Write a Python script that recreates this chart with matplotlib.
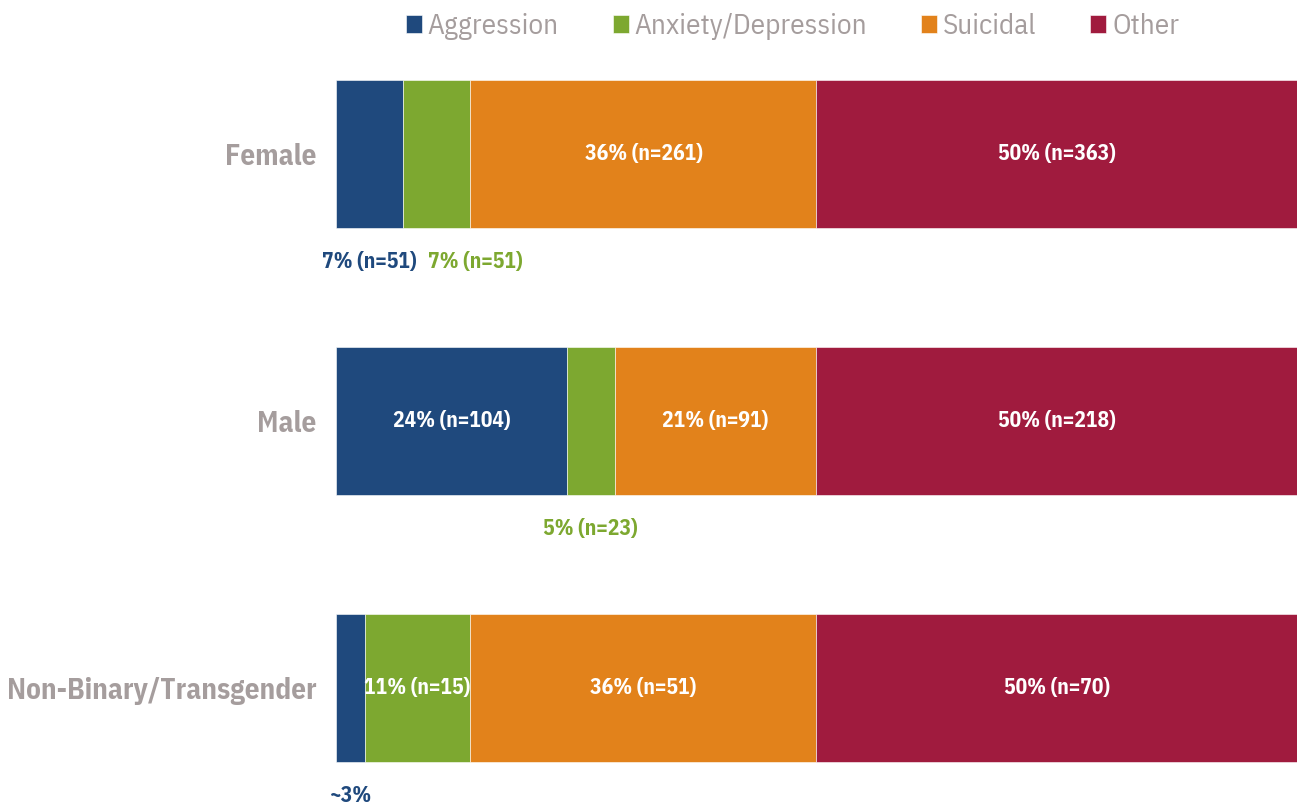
import matplotlib.pyplot as plt
import numpy as np

groups = ['Female', 'Male', 'Non-Binary/Transgender']
series = ['Aggression', 'Anxiety/Depression', 'Suicidal', 'Other']
pct = {
    'Aggression':         [7, 24, 3],
    'Anxiety/Depression': [7, 5, 11],
    'Suicidal':           [36, 21, 36],
    'Other':              [50, 50, 50],
}
labels_in = {
    'Aggression':         ['', '24% (n=104)', ''],
    'Anxiety/Depression': ['', '', '11% (n=15)'],
    'Suicidal':           ['36% (n=261)', '21% (n=91)', '36% (n=51)'],
    'Other':              ['50% (n=363)', '50% (n=218)', '50% (n=70)'],
}
# small segments labelled under the bar
labels_out = [
    # (series, group index, text, x shift)
    ('Aggression', 0, '7% (n=51)', 0.0),
    ('Anxiety/Depression', 0, '7% (n=51)', 4.0),
    ('Anxiety/Depression', 1, '5% (n=23)', 0.0),
    ('Aggression', 2, '~3%', 0.0),
]
colors = ['#1F497D', '#7DA830', '#E2821B', '#A01B3E']
gray = '#A59D9D'
plt.rcParams['font.family'] = ['IBM Plex Sans Condensed', 'Liberation Sans', 'DejaVu Sans']

fig = plt.figure(figsize=(12.97, 8.06), dpi=100)
ax = fig.add_axes([0.259, 0.0, 0.741, 0.9504])

y = np.arange(len(groups))
left = np.zeros(len(groups))
for s, c in zip(series, colors):
    vals = np.array(pct[s], dtype=float)
    ax.barh(y, vals, left=left, height=0.554, color=c, label=s,
            edgecolor='white', linewidth=0.4)
    for i, t in enumerate(labels_in[s]):
        if t:
            ax.text(left[i] + vals[i] / 2, y[i], t, ha='center', va='center',
                    color='white', fontsize=15.5, fontweight='bold')
    for (ss, gi, t, dx) in labels_out:
        if ss == s:
            ax.text(left[gi] + vals[gi] / 2 + dx, y[gi] + 0.404, t,
                    ha='center', va='center', color=c, fontsize=15.5,
                    fontweight='bold')
    left += vals

ax.set_xlim(0, 100)
ax.set_ylim(2.442, -0.427)
ax.set_yticks(y)
ax.set_yticklabels(groups, fontsize=21, fontweight='bold', color=gray)
ax.tick_params(axis='y', length=0, pad=14)
ax.set_xticks([])
for sp in ['top', 'right', 'bottom', 'left']:
    ax.spines[sp].set_visible(False)

leg = fig.legend(loc='upper center', bbox_to_anchor=(0.611, 1.016), ncol=4,
                 frameon=False, fontsize=21, handlelength=0.55,
                 handleheight=0.55, handletextpad=0.2, columnspacing=1.85)
for t in leg.get_texts():
    t.set_color(gray)

fig.savefig('out.png', dpi=100)
